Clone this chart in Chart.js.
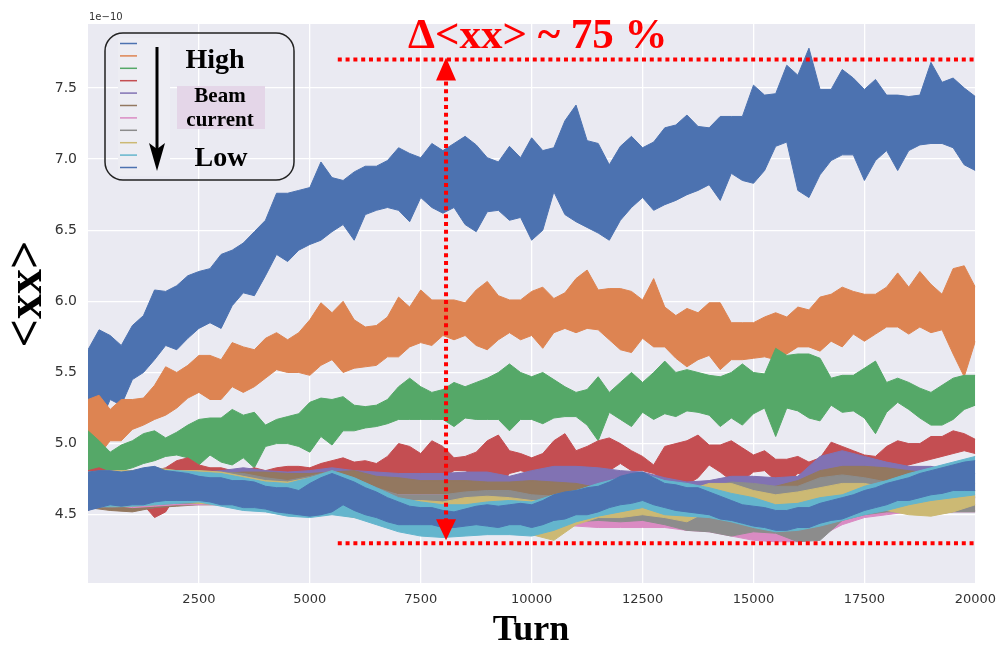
<!DOCTYPE html>
<html>
<head>
<meta charset="utf-8">
<script src="https://cdn.jsdelivr.net/npm/chart.js@4.4.1/dist/chart.umd.min.js"></script>
<style>
  html, body { margin: 0; padding: 0; background: #fff; }
</style>
</head>
<body>
<canvas id="ch" width="1005" height="646"></canvas>
<script>
// <xx> vs turn, una banda por corriente de haz (envolvente sup/inf)
var TURN_FINE = [0,250,500,750,1000,1250,1500,1750,2000,2250,
  2500,2750,3000,3250,3500,3750,4000,4250,4500,4750,
  5000,5250,5500,5750,6000,6250,6500,6750,7000,7250,
  7500,7750,8000,8250,8500,8750,9000,9250,9500,9750,
  10000,10250,10500,10750,11000,11250,11500,11750,12000,12250,
  12500,12750,13000,13250,13500,13750,14000,14250,14500,14750,
  15000,15250,15500,15750,16000,16250,16500,16750,17000,17250,
  17500,17750,18000,18250,18500,18750,19000,19250,19500,19750,
  20000];
var TURN_COARSE = [0,500,1000,1500,2000,2500,3000,3500,4000,4500,
  5000,5500,6000,6500,7000,7500,8000,8500,9000,9500,
  10000,10500,11000,11500,12000,12500,13000,13500,14000,14500,
  15000,15500,16000,16500,17000,17500,18000,18500,19000,19500,
  20000];

var X_TICKS = [2500, 5000, 7500, 10000, 12500, 15000, 17500, 20000];
var Y_TICKS = [4.5, 5.0, 5.5, 6.0, 6.5, 7.0, 7.5];

// corriente mas alta (azul)
var BLUE_HI = [5.66,5.80,5.76,5.69,5.83,5.90,6.08,6.07,6.11,6.18,
  6.21,6.23,6.33,6.36,6.41,6.49,6.57,6.76,6.76,6.78,
  6.80,6.98,6.87,6.85,6.91,6.95,6.95,6.99,7.08,7.04,
  7.01,7.11,7.06,7.11,7.16,7.10,7.01,6.98,7.09,7.01,
  7.15,7.06,7.08,7.27,7.38,7.13,7.11,6.96,7.09,7.16,
  7.08,7.12,7.22,7.24,7.31,7.23,7.22,7.30,7.30,7.30,
  7.52,7.45,7.46,7.66,7.59,7.78,7.49,7.49,7.63,7.57,
  7.49,7.56,7.45,7.45,7.44,7.45,7.68,7.54,7.57,7.50,
  7.44];
var BLUE_LO = [5.10,5.13,5.31,5.27,5.45,5.50,5.59,5.69,5.66,5.74,
  5.81,5.85,5.81,5.97,6.06,6.04,6.18,6.33,6.28,6.36,
  6.40,6.43,6.49,6.54,6.43,6.61,6.64,6.66,6.64,6.56,
  6.73,6.66,6.62,6.66,6.54,6.49,6.63,6.64,6.57,6.59,
  6.43,6.50,6.77,6.61,6.56,6.52,6.48,6.43,6.57,6.66,
  6.73,6.64,6.68,6.71,6.75,6.78,6.82,6.71,6.90,6.85,
  6.83,6.92,7.09,7.12,6.78,6.73,6.89,6.99,7.03,7.03,
  6.85,6.99,7.06,6.92,7.06,7.10,7.11,7.11,7.08,6.96,
  6.92];

var ORANGE_HI = [5.31,5.34,5.24,5.31,5.31,5.32,5.41,5.54,5.50,5.55,
  5.62,5.62,5.59,5.71,5.68,5.66,5.74,5.78,5.73,5.78,
  5.87,5.99,5.92,6.00,5.87,5.82,5.83,5.89,6.03,5.96,
  6.08,6.01,6.01,6.01,5.99,6.08,6.14,6.04,6.01,6.01,
  6.07,6.10,6.02,6.06,6.16,6.22,6.08,6.09,6.09,6.07,
  6.01,6.16,5.96,5.90,5.95,5.92,5.99,5.99,5.85,5.85,
  5.85,5.89,5.92,5.89,5.96,5.94,6.03,6.05,6.10,6.07,
  6.05,6.05,6.10,6.20,6.10,6.21,6.12,6.05,6.23,6.25,
  6.10];
var ORANGE_LO = [4.88,4.92,5.02,5.02,5.10,5.13,5.17,5.20,5.25,5.32,
  5.36,5.31,5.31,5.40,5.36,5.40,5.46,5.52,5.50,5.50,
  5.48,5.55,5.59,5.50,5.53,5.54,5.55,5.61,5.61,5.68,
  5.71,5.69,5.76,5.73,5.76,5.69,5.66,5.73,5.78,5.73,
  5.76,5.67,5.78,5.81,5.78,5.81,5.80,5.73,5.66,5.64,
  5.74,5.68,5.68,5.60,5.54,5.59,5.62,5.52,5.59,5.59,
  5.60,5.61,5.59,5.63,5.68,5.68,5.65,5.72,5.68,5.77,
  5.72,5.77,5.82,5.82,5.77,5.82,5.78,5.80,5.63,5.47,
  5.72];

var GREEN_HI = [5.09,5.02,4.94,4.99,5.02,5.07,5.09,5.04,5.08,5.13,
  5.17,5.18,5.18,5.24,5.20,5.22,5.13,5.17,5.19,5.21,
  5.29,5.32,5.31,5.33,5.27,5.26,5.27,5.31,5.40,5.46,
  5.40,5.36,5.38,5.43,5.40,5.43,5.46,5.50,5.56,5.50,
  5.47,5.50,5.45,5.40,5.36,5.38,5.47,5.36,5.43,5.50,
  5.43,5.50,5.58,5.50,5.52,5.50,5.48,5.47,5.50,5.56,
  5.50,5.49,5.67,5.62,5.63,5.63,5.60,5.46,5.48,5.48,
  5.53,5.58,5.43,5.46,5.43,5.39,5.36,5.41,5.46,5.48,
  5.48];
var GREEN_LO = [4.74,4.79,4.80,4.81,4.83,4.86,4.88,4.91,4.92,4.90,
  4.85,4.92,4.87,4.85,4.90,4.83,4.98,5.00,5.00,4.98,
  4.94,5.05,4.99,5.09,5.09,5.11,5.12,5.14,5.17,5.17,
  5.17,5.17,5.17,5.12,5.18,5.17,5.17,5.17,5.09,5.17,
  5.17,5.14,5.18,5.19,5.19,5.13,5.02,5.22,5.17,5.12,
  5.22,5.17,5.21,5.19,5.23,5.22,5.20,5.12,5.18,5.13,
  5.21,5.25,5.05,5.25,5.23,5.18,5.16,5.27,5.22,5.23,
  5.18,5.07,5.22,5.29,5.24,5.18,5.13,5.13,5.17,5.24,
  5.27];

var RED_HI = [4.81,4.83,4.80,4.78,4.80,4.81,4.81,4.83,4.88,4.90,
  4.85,4.83,4.83,4.81,4.81,4.83,4.81,4.83,4.84,4.84,
  4.83,4.86,4.88,4.90,4.87,4.88,4.86,4.91,5.00,4.98,
  4.93,5.02,4.98,4.90,4.91,4.94,5.02,5.06,4.95,4.93,
  4.90,4.93,5.02,5.07,4.95,4.98,5.02,5.04,5.00,4.95,
  4.91,4.85,4.98,5.00,5.02,5.06,4.99,4.99,5.02,4.97,
  4.92,4.95,4.89,4.89,4.91,4.87,4.90,5.01,4.98,4.95,
  4.92,4.91,4.98,5.02,5.00,5.00,5.05,5.05,5.09,5.07,
  5.03];
var RED_LO = [4.53,4.57,4.60,4.60,4.62,4.57,4.48,4.52,4.64,4.64,
  4.66,4.64,4.66,4.67,4.69,4.67,4.69,4.69,4.71,4.71,
  4.71,4.73,4.78,4.79,4.76,4.74,4.74,4.72,4.69,4.74,
  4.69,4.67,4.76,4.81,4.81,4.78,4.73,4.69,4.79,4.81,
  4.79,4.76,4.81,4.83,4.81,4.81,4.79,4.81,4.86,4.81,
  4.81,4.79,4.74,4.69,4.71,4.76,4.85,4.80,4.74,4.74,
  4.80,4.81,4.74,4.72,4.79,4.78,4.81,4.86,4.84,4.83,
  4.81,4.79,4.82,4.83,4.85,4.87,4.89,4.91,4.93,4.95,
  4.93];

// corrientes bajas (grupo de abajo, paso 500)
var PURPLE_HI = [4.79,4.80,4.80,4.80,4.79,4.80,4.81,4.83,4.81,4.80,
  4.81,4.83,4.81,4.80,4.79,4.79,4.79,4.80,4.80,4.77,
  4.81,4.84,4.84,4.83,4.81,4.80,4.76,4.73,4.74,4.77,
  4.77,4.76,4.77,4.91,4.95,4.91,4.87,4.84,4.84,4.81,
  4.79];
var PURPLE_LO = [4.56,4.55,4.53,4.55,4.57,4.58,4.59,4.60,4.62,4.62,
  4.62,4.63,4.63,4.64,4.63,4.62,4.62,4.64,4.64,4.62,
  4.66,4.69,4.69,4.67,4.66,4.63,4.60,4.57,4.59,4.60,
  4.60,4.59,4.60,4.71,4.76,4.74,4.72,4.70,4.67,4.64,
  4.62];
var BROWN_HI = [4.77,4.79,4.79,4.79,4.78,4.79,4.79,4.80,4.80,4.79,
  4.79,4.80,4.81,4.77,4.76,4.74,4.74,4.74,4.73,4.73,
  4.74,4.73,4.72,4.69,4.66,4.63,4.60,4.56,4.55,4.60,
  4.67,4.70,4.74,4.81,4.84,4.84,4.83,4.81,4.79,4.73,
  4.67];
var BROWN_LO = [4.55,4.53,4.52,4.55,4.56,4.57,4.57,4.57,4.56,4.55,
  4.53,4.55,4.57,4.59,4.60,4.59,4.59,4.60,4.59,4.57,
  4.58,4.57,4.55,4.53,4.50,4.46,4.43,4.39,4.39,4.45,
  4.50,4.55,4.57,4.64,4.67,4.69,4.69,4.66,4.63,4.57,
  4.53];
var PINK_HI = [4.78,4.79,4.78,4.79,4.79,4.79,4.77,4.76,4.73,4.72,
  4.74,4.77,4.73,4.67,4.64,4.64,4.64,4.64,4.63,4.62,
  4.60,4.59,4.57,4.56,4.55,4.55,4.56,4.56,4.55,4.52,
  4.49,4.48,4.48,4.53,4.60,4.64,4.66,4.66,4.64,4.63,
  4.62];
var PINK_LO = [4.57,4.57,4.55,4.56,4.57,4.57,4.57,4.55,4.53,4.52,
  4.50,4.52,4.50,4.48,4.45,4.43,4.43,4.46,4.48,4.49,
  4.46,4.43,4.42,4.41,4.41,4.41,4.41,4.39,4.38,4.35,
  4.32,4.31,4.31,4.35,4.43,4.48,4.50,4.52,4.52,4.52,
  4.52];
var GRAY_HI = [4.80,4.81,4.81,4.83,4.81,4.81,4.80,4.79,4.76,4.74,
  4.77,4.81,4.76,4.69,4.64,4.64,4.64,4.66,4.67,4.67,
  4.64,4.63,4.63,4.64,4.63,4.64,4.64,4.62,4.69,4.73,
  4.72,4.70,4.70,4.76,4.78,4.76,4.73,4.70,4.67,4.64,
  4.63];
var GRAY_LO = [4.56,4.55,4.56,4.57,4.58,4.58,4.57,4.55,4.53,4.52,
  4.50,4.52,4.50,4.48,4.45,4.43,4.42,4.46,4.50,4.52,
  4.46,4.43,4.45,4.46,4.45,4.46,4.43,4.39,4.38,4.35,
  4.38,4.37,4.31,4.32,4.46,4.50,4.52,4.52,4.50,4.52,
  4.52];
var OLIVE_HI = [4.80,4.81,4.81,4.83,4.81,4.81,4.80,4.77,4.74,4.73,
  4.76,4.80,4.74,4.64,4.60,4.60,4.59,4.62,4.63,4.62,
  4.60,4.60,4.60,4.62,4.60,4.63,4.64,4.67,4.72,4.72,
  4.67,4.64,4.66,4.69,4.72,4.72,4.69,4.66,4.64,4.67,
  4.72];
var OLIVE_LO = [4.57,4.56,4.56,4.57,4.59,4.58,4.57,4.55,4.53,4.52,
  4.50,4.51,4.48,4.46,4.41,4.39,4.38,4.41,4.45,4.48,
  4.36,4.32,4.43,4.48,4.48,4.50,4.48,4.45,4.53,4.52,
  4.53,4.53,4.55,4.60,4.62,4.60,4.53,4.50,4.49,4.52,
  4.57];
var CYAN_HI = [4.78,4.80,4.80,4.81,4.81,4.80,4.79,4.76,4.73,4.72,
  4.76,4.81,4.76,4.69,4.62,4.59,4.57,4.57,4.59,4.60,
  4.59,4.64,4.67,4.72,4.76,4.79,4.74,4.72,4.69,4.65,
  4.62,4.57,4.58,4.62,4.64,4.70,4.74,4.79,4.83,4.87,
  4.91];
var CYAN_LO = [4.55,4.56,4.56,4.57,4.58,4.59,4.56,4.53,4.52,4.49,
  4.48,4.50,4.48,4.43,4.38,4.35,4.34,4.35,4.36,4.36,
  4.35,4.39,4.45,4.49,4.52,4.55,4.50,4.49,4.48,4.45,
  4.41,4.38,4.39,4.42,4.46,4.50,4.53,4.57,4.60,4.62,
  4.64];

// corriente mas baja (azul otra vez, queda encima de todo)
var BLUE2_HI = [4.80,4.81,4.81,4.80,4.81,4.83,4.84,4.81,4.80,4.79,
  4.77,4.76,4.76,4.74,4.74,4.73,4.70,4.69,4.69,4.67,
  4.72,4.76,4.79,4.76,4.73,4.69,4.66,4.62,4.59,4.56,
  4.55,4.55,4.53,4.52,4.54,4.56,4.57,4.56,4.57,4.58,
  4.57,4.60,4.64,4.66,4.67,4.69,4.70,4.73,4.77,4.79,
  4.80,4.76,4.72,4.71,4.69,4.69,4.66,4.63,4.60,4.57,
  4.56,4.55,4.53,4.53,4.55,4.55,4.58,4.60,4.62,4.64,
  4.67,4.69,4.72,4.74,4.76,4.79,4.81,4.83,4.85,4.87,
  4.88];
var BLUE2_LO = [4.53,4.55,4.57,4.56,4.57,4.57,4.59,4.60,4.60,4.60,
  4.60,4.59,4.57,4.57,4.55,4.55,4.54,4.52,4.51,4.50,
  4.49,4.50,4.52,4.57,4.53,4.50,4.48,4.45,4.43,4.43,
  4.43,4.43,4.41,4.41,4.42,4.43,4.42,4.41,4.43,4.43,
  4.41,4.43,4.46,4.47,4.50,4.50,4.52,4.55,4.57,4.58,
  4.60,4.57,4.55,4.53,4.52,4.51,4.50,4.47,4.46,4.44,
  4.42,4.41,4.39,4.39,4.41,4.41,4.44,4.46,4.47,4.50,
  4.53,4.55,4.57,4.60,4.60,4.62,4.64,4.65,4.67,4.67,
  4.67];

// niveles marcados con la flecha roja
var DELTA_TOP = 7.70, DELTA_BOT = 4.30, DELTA_FROM = 5630, DELTA_AT = 8070;

var PALETA = ['#4C72B0', '#DD8452', '#55A868', '#C44E52', '#8172B3', '#937860',
  '#DA8BC3', '#8C8C8C', '#CCB974', '#64B5CD', '#4C72B0'];

var SERIES = [
  { t: TURN_FINE, hi: BLUE_HI, lo: BLUE_LO },
  { t: TURN_FINE, hi: ORANGE_HI, lo: ORANGE_LO },
  { t: TURN_FINE, hi: GREEN_HI, lo: GREEN_LO },
  { t: TURN_FINE, hi: RED_HI, lo: RED_LO },
  { t: TURN_COARSE, hi: PURPLE_HI, lo: PURPLE_LO },
  { t: TURN_COARSE, hi: BROWN_HI, lo: BROWN_LO },
  { t: TURN_COARSE, hi: PINK_HI, lo: PINK_LO },
  { t: TURN_COARSE, hi: GRAY_HI, lo: GRAY_LO },
  { t: TURN_COARSE, hi: OLIVE_HI, lo: OLIVE_LO },
  { t: TURN_COARSE, hi: CYAN_HI, lo: CYAN_LO },
  { t: TURN_FINE, hi: BLUE2_HI, lo: BLUE2_LO }
];

function pts(turns, vals) {
  return vals.map(function (v, i) { return { x: turns[i], y: v }; });
}

var datasets = [];
SERIES.forEach(function (s, i) {
  var c = PALETA[i];
  // las series posteriores se dibujan encima (order mas bajo = encima)
  datasets.push({ data: pts(s.t, s.hi), borderColor: c, backgroundColor: c, borderWidth: 1,
    pointRadius: 0, tension: 0, fill: '+1', order: 100 - i });
  datasets.push({ data: pts(s.t, s.lo), borderColor: c, backgroundColor: c, borderWidth: 1,
    pointRadius: 0, tension: 0, fill: false, order: 100 - i });
});

function rrect(ctx, x, y, w, h, r) {
  ctx.beginPath();
  ctx.moveTo(x + r, y);
  ctx.arcTo(x + w, y, x + w, y + h, r);
  ctx.arcTo(x + w, y + h, x, y + h, r);
  ctx.arcTo(x, y + h, x, y, r);
  ctx.arcTo(x, y, x + w, y, r);
  ctx.closePath();
}

var SERIF = "'Liberation Serif', 'Times New Roman', serif";

var deco = {
  id: 'deco',
  beforeDraw: function (c) {
    var a = c.chartArea, ctx = c.ctx;
    ctx.save();
    ctx.fillStyle = '#EAEAF2';
    ctx.fillRect(a.left, a.top, a.right - a.left, a.bottom - a.top);
    ctx.restore();
  },
  afterDraw: function (c) {
    var ctx = c.ctx, a = c.chartArea, xs = c.scales.x, ys = c.scales.y;
    ctx.save();

    // lineas punteadas rojas
    var yT = ys.getPixelForValue(DELTA_TOP), yB = ys.getPixelForValue(DELTA_BOT);
    var x0 = xs.getPixelForValue(DELTA_FROM), ax = xs.getPixelForValue(DELTA_AT);
    ctx.strokeStyle = '#FF0000';
    ctx.fillStyle = '#FF0000';
    ctx.lineWidth = 4;
    ctx.setLineDash([4, 3.8]);
    ctx.beginPath();
    ctx.moveTo(x0, yT); ctx.lineTo(a.right, yT);
    ctx.moveTo(x0, yB); ctx.lineTo(a.right, yB);
    ctx.moveTo(ax, yT + 22); ctx.lineTo(ax, yB - 22);
    ctx.stroke();
    ctx.setLineDash([]);
    ctx.beginPath();
    ctx.moveTo(ax, yT - 2); ctx.lineTo(ax - 10, yT + 21); ctx.lineTo(ax + 10, yT + 21); ctx.closePath();
    ctx.moveTo(ax, yB - 3); ctx.lineTo(ax - 10, yB - 24); ctx.lineTo(ax + 10, yB - 24); ctx.closePath();
    ctx.fill();

    ctx.font = 'bold 43px ' + SERIF;
    ctx.textAlign = 'left';
    ctx.textBaseline = 'alphabetic';
    ctx.fillText('\u0394<xx> ~ 75 %', 408, 48);

    // "leyenda"
    ctx.fillStyle = '#EDEDF3';
    ctx.fillRect(118, 38, 52, 138);
    rrect(ctx, 105, 33, 189, 147, 18);
    ctx.strokeStyle = '#222';
    ctx.lineWidth = 1.5;
    ctx.stroke();
    ctx.lineWidth = 1.5;
    PALETA.forEach(function (col, i) {
      var y = 43.5 + i * 12.4;
      ctx.strokeStyle = col;
      ctx.beginPath(); ctx.moveTo(120, y); ctx.lineTo(137, y); ctx.stroke();
    });
    ctx.strokeStyle = '#000';
    ctx.fillStyle = '#000';
    ctx.lineWidth = 3;
    ctx.beginPath(); ctx.moveTo(157, 47); ctx.lineTo(157, 150); ctx.stroke();
    ctx.beginPath(); ctx.moveTo(157, 171); ctx.lineTo(149, 143); ctx.lineTo(157, 149); ctx.lineTo(165, 143); ctx.closePath(); ctx.fill();

    ctx.fillStyle = '#E4D6E8';
    ctx.fillRect(177, 86, 88, 43);
    ctx.fillStyle = '#000';
    ctx.textAlign = 'center';
    ctx.font = 'bold 28px ' + SERIF;
    ctx.fillText('High', 215, 68);
    ctx.font = 'bold 21px ' + SERIF;
    ctx.fillText('Beam', 220, 102);
    ctx.fillText('current', 220, 126);
    ctx.font = 'bold 28px ' + SERIF;
    ctx.fillText('Low', 221, 166);

    // titulos de ejes
    ctx.font = 'bold 36px ' + SERIF;
    ctx.fillText('Turn', 531, 640);
    ctx.save();
    ctx.translate(28, 294);
    ctx.rotate(-Math.PI / 2);
    ctx.textBaseline = 'middle';
    ctx.font = 'bold 50px ' + SERIF;
    ctx.fillText('<xx>', 0, 0);
    ctx.restore();

    ctx.fillStyle = '#333';
    ctx.textAlign = 'left';
    ctx.font = '10px "DejaVu Sans"';
    ctx.fillText('1e\u221210', 89, 20);
    ctx.restore();
  }
};

new Chart(document.getElementById('ch'), {
  type: 'line',
  data: { datasets: datasets },
  plugins: [deco],
  options: {
    responsive: false,
    animation: false,
    layout: { padding: { top: 24, right: 26, left: 0, bottom: 0 } },
    plugins: { legend: { display: false }, tooltip: { enabled: false } },
    scales: {
      x: {
        type: 'linear', min: 0, max: 20000,
        afterBuildTicks: function (s) { s.ticks = X_TICKS.map(function (v) { return { value: v }; }); },
        afterFit: function (s) { s.height = 63; },
        grid: { color: '#ffffff', lineWidth: 1.3, drawTicks: false },
        border: { display: false },
        ticks: { padding: 9, color: '#333', maxRotation: 0, autoSkip: false,
          font: { family: 'DejaVu Sans', size: 13 },
          callback: function (v) { return String(v); } }
      },
      y: {
        type: 'linear', min: 4.02, max: 7.95,
        afterBuildTicks: function (s) { s.ticks = Y_TICKS.map(function (v) { return { value: v }; }); },
        afterFit: function (s) { s.width = 88; },
        grid: { color: '#ffffff', lineWidth: 1.3, drawTicks: false },
        border: { display: false },
        ticks: { padding: 11, color: '#333', font: { family: 'DejaVu Sans', size: 14 },
          callback: function (v) { return v.toFixed(1); } }
      }
    }
  }
});
</script>
</body>
</html>
